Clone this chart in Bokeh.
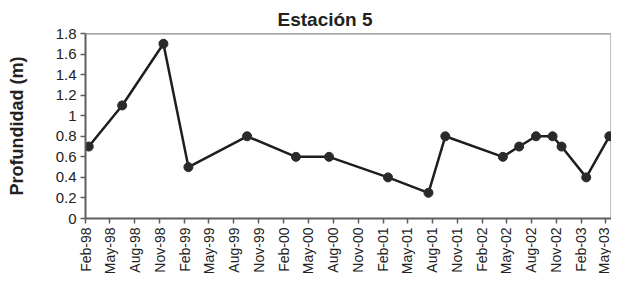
import math
import pandas as pd
from bokeh.plotting import figure
from bokeh.models import FixedTicker, DatetimeTickFormatter, Range1d, Span
from bokeh.embed import file_html
from bokeh.resources import INLINE

# ---- data ----
sample_dates = ["1998-02-13", "1998-06-16", "1998-11-15", "1999-02-15", "1999-09-19",
                "2000-03-17", "2000-07-17", "2001-02-19", "2001-07-18", "2001-09-18",
                "2002-04-18", "2002-06-17", "2002-08-18", "2002-10-18", "2002-11-20",
                "2003-02-19", "2003-05-15"]
depth = [0.7, 1.1, 1.7, 0.5, 0.8, 0.6, 0.6, 0.4, 0.25, 0.8,
         0.6, 0.7, 0.8, 0.8, 0.7, 0.4, 0.8]
tick_dates = ["1998-02-01", "1998-05-01", "1998-08-01", "1998-11-01",
              "1999-02-01", "1999-05-01", "1999-08-01", "1999-11-01",
              "2000-02-01", "2000-05-01", "2000-08-01", "2000-11-01",
              "2001-02-01", "2001-05-01", "2001-08-01", "2001-11-01",
              "2002-02-01", "2002-05-01", "2002-08-01", "2002-11-01",
              "2003-02-01", "2003-05-01"]
y_ticks = [0, 0.2, 0.4, 0.6, 0.8, 1, 1.2, 1.4, 1.6, 1.8]
y_min, y_max = 0, 1.8
x_start, x_end = "1998-02-01", "2003-05-23"

x = pd.to_datetime(sample_dates)
ticks_ms = [pd.Timestamp(d).value / 1e6 for d in tick_dates]

FONT = "Liberation Sans"
TXT = "#222222"
AX = "#5e5e5e"

p = figure(width=611, height=277, x_axis_type="datetime",
           output_backend="svg", toolbar_location=None,
           x_range=Range1d(pd.Timestamp(x_start), pd.Timestamp(x_end)),
           y_range=Range1d(y_min, y_max),
           min_border_left=85, min_border_right=0, min_border_top=33,
           min_border_bottom=10)

p.title.text = "Estación 5"
p.title.text_font = FONT
p.title.text_font_size = "19px"
p.title.text_font_style = "bold"
p.title.text_color = TXT
p.title.align = "left"
p.title.offset = 192
p.title.standoff = 7

p.xgrid.visible = False
p.ygrid.visible = False
p.outline_line_color = "#c0c0c0"
p.outline_line_width = 1
p.background_fill_color = "white"
p.border_fill_color = "white"

# darker top border of the plot area
p.add_layout(Span(location=y_max, dimension="width", line_color="#8c8c8c", line_width=2))

p.line(x, depth, line_color="#1e1e1e", line_width=2.5)
p.scatter(x, depth, size=9, fill_color="#2a2a2a", line_color="#2a2a2a")

# x axis
xa = p.xaxis[0]
xa.ticker = FixedTicker(ticks=ticks_ms)
fmt = "%b-%y"
xa.formatter = DatetimeTickFormatter(microseconds=fmt, milliseconds=fmt, seconds=fmt,
                                     minsec=fmt, minutes=fmt, hourmin=fmt, hours=fmt,
                                     days=fmt, months=fmt, years=fmt)
xa.major_label_orientation = math.pi / 2
xa.major_label_text_font = FONT
xa.major_label_text_font_size = "14px"
xa.major_label_text_color = TXT
xa.major_label_standoff = 4
xa.minor_tick_line_color = None
xa.major_tick_in = 0
xa.major_tick_out = 5

# y axis
ya = p.yaxis[0]
ya.ticker = FixedTicker(ticks=y_ticks)
ya.major_label_overrides = {0: "0", 1: "1"}
ya.axis_label = "Profundidad (m)"
ya.axis_label_text_font = FONT
ya.axis_label_text_font_size = "18px"
ya.axis_label_text_font_style = "bold"
ya.axis_label_text_color = TXT
ya.axis_label_standoff = 26
ya.major_label_text_font = FONT
ya.major_label_text_font_size = "15px"
ya.major_label_text_color = TXT
ya.major_label_standoff = 4
ya.minor_tick_line_color = None
ya.major_tick_in = 0
ya.major_tick_out = 5

for ax in (xa, ya):
    ax.axis_line_color = AX
    ax.axis_line_width = 2
    ax.major_tick_line_color = AX
    ax.major_tick_line_width = 1.5

open("out.html", "w").write(file_html(p, INLINE))
